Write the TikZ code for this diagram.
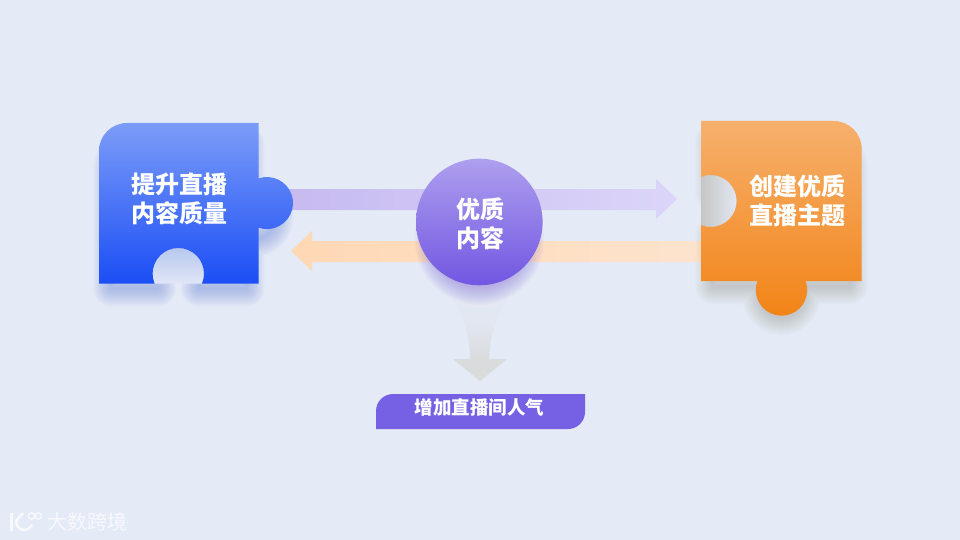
\documentclass[tikz,border=0pt]{standalone}
\usepackage{xcolor}
\usepackage{fontspec}
\newfontfamily\cjk{Noto Sans CJK SC}
\definecolor{page-bg}{HTML}{E4EAF6}
\definecolor{blue-top}{HTML}{7C9CF8}
\definecolor{blue-low}{HTML}{1B4EF5}
\definecolor{blue-glow}{HTML}{3E68E8}
\definecolor{blue-notch}{HTML}{B4C5EE}
\definecolor{orange-top}{HTML}{F6B06C}
\definecolor{orange-low}{HTML}{F28316}
\definecolor{orange-glow}{HTML}{8A8060}
\definecolor{orange-notch}{HTML}{C6C6C4}
\definecolor{violet-top}{HTML}{AE9FEE}
\definecolor{violet-low}{HTML}{7157E2}
\definecolor{violet-bar}{HTML}{7660E4}
\definecolor{grey-arrow}{HTML}{D9DBDC}
\definecolor{flow-violet-a}{HTML}{C6BAF0}
\definecolor{flow-violet-b}{HTML}{DCD5F9}
\definecolor{flow-orange-a}{HTML}{FFD8B4}
\definecolor{flow-orange-b}{HTML}{FDE4CE}
\def\pieceblue{(99,151) arc[start angle=180, end angle=270, radius=28pt] -- (258.7,123) -- (258.7,178.4)
  arc[start angle=-108.6, end angle=108.6, radius=26pt] -- (258.7,283.5) -- (202.06,283.5)
  arc[start angle=22.4, end angle=-202.4, radius=25.7pt] -- (99,283.5) -- cycle}
\def\pieceorange{(701,121) -- (833.7,121) arc[start angle=-90, end angle=0, radius=28pt] -- (861.7,281) -- (805.57,281)
  arc[start angle=-20.5, end angle=200.5, radius=25.7pt] -- (701,281) -- (701,225.1)
  arc[start angle=111.9, end angle=-111.9, radius=26pt] -- cycle}
\begin{document}
\begin{tikzpicture}[x=1pt, y=1pt, yscale=-1,
        every node/.style={text=white, align=center, font=\cjk\bfseries\fontsize{24}{29}\selectfont},
        glow/.style={line join=round, line width=#1}]
      \useasboundingbox (0,0) rectangle (960,540);
      \fill[page-bg] (0,0) rectangle (960,540);
      % arrows behind the pieces
      \coordinate (flowout) at (285,189);
      \coordinate (flowback) at (712,241);
      \shade[left color=flow-violet-a, right color=flow-violet-b]
        (flowout) -- ++(371,0) -- ++(0,-10) -- ++(21,20) -- ++(-21,20) -- ++(0,-9) -- ++(-371,0) -- cycle;
      \shade[left color=flow-orange-a, right color=flow-orange-b]
        (flowback) -- ++(-400,0) -- ++(0,-10) -- ++(-21,20) -- ++(21,20) -- ++(0,-9) -- ++(400,0) -- cycle;
      \coordinate (downflow) at (480,381);
      \shade[top color=page-bg, bottom color=grey-arrow, middle color=grey-arrow!25!page-bg]
        (447,288) .. controls (462,315) and (470,330) .. (470,360) -- (489,360)
        .. controls (490,330) and (498,315) .. (513,288) -- cycle;
      \fill[grey-arrow] (downflow) -- ++(-27,-22) -- ++(54,0) -- cycle;
      % soft shadows
      \foreach \w in {2,4,...,36} {
        \draw[blue-glow, opacity=0.02, glow=\w pt, shift={(179,216)}, xscale=0.85, yscale=0.9, shift={(-179,-203)}] \pieceblue;
        \draw[orange-glow, opacity=0.017, glow=\w pt, shift={(781,214)}, xscale=0.85, yscale=0.9, shift={(-781,-201)}] \pieceorange;
        \draw[violet-low, opacity=0.022, glow=\w pt] (479.3,240) circle[radius=47pt];
      }
      % notches
      \shade[top color=blue-notch, bottom color=page-bg!90!blue-notch]
        (202.06,283.5) arc[start angle=22.4, end angle=-202.4, radius=25.7pt] -- cycle;
      \shade[shading angle=-45, left color=orange-notch, right color=page-bg]
        (701,225.1) arc[start angle=111.9, end angle=-111.9, radius=26pt] -- cycle;
      % puzzle pieces
      \shade[top color=blue-top, bottom color=blue-low] \pieceblue;
      \shade[top color=orange-top, bottom color=orange-low] \pieceorange;
      \node (quality) at (179,199) {提升直播\\内容质量};
      \node (topic) at (797.5,200.5) {创建优质\\直播主题};
      \node[circle, minimum size=126.6pt, inner sep=0pt, top color=violet-top, bottom color=violet-low] (core) at (479.3,222) {};
      \node (corelabel) at (480,223.5) {优质\\内容};
      % result label
      \fill[violet-bar] (376,429) -- (376,411) arc[start angle=180, end angle=270, radius=17pt] -- (585,394)
        -- (585,412) arc[start angle=0, end angle=90, radius=17pt] -- cycle;
      \node[font=\cjk\bfseries\fontsize{18.5}{22}\selectfont] (popular) at (479.5,407.5) {增加直播间人气};
      % watermark
      \node[text=white, text opacity=0.7, font=\cjk\fontsize{20}{24}\selectfont] (brand) at (87,522) {大数跨境};
      \draw[white, opacity=0.75, line width=2.8pt] (11.5,513) -- (11.5,531);
      \draw[white, opacity=0.75, line width=2.6pt] (23,513) -- (16,521);
      \draw[white, opacity=0.75, line width=2.6pt] (16,521) .. controls (17,531) and (27,533) .. (32,525);
      \draw[white, opacity=0.75, line width=1.3pt] (31.5,516) circle[radius=3.2pt] (38.5,516) circle[radius=3.2pt];
    \end{tikzpicture}
\end{document}
